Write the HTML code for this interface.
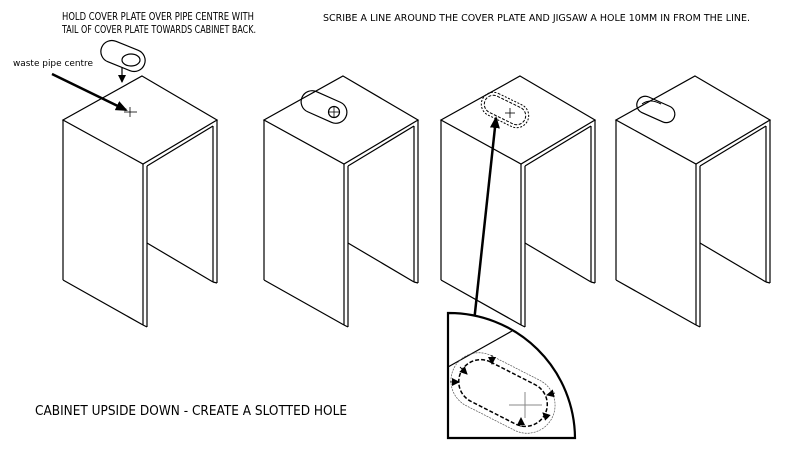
<!DOCTYPE html>
<html><head><style>
body{margin:0;background:#fff;}
svg{display:block;font-family:"DejaVu Sans","Liberation Sans",sans-serif;}
</style></head><body>
<svg width="800" height="450" viewBox="0 0 800 450">
<defs>
<g id="cab" fill="none" stroke="#000" stroke-width="1.2">
<polygon points="142,76 217,120 143,164 63,120" fill="#fff"/>
<line x1="63" y1="120" x2="63" y2="280"/>
<line x1="63" y1="280" x2="143" y2="325"/>
<line x1="143" y1="164" x2="143" y2="325"/>
<line x1="147" y1="166" x2="147" y2="327"/>
<line x1="143" y1="325" x2="147" y2="327"/>
<line x1="147" y1="166" x2="213" y2="126"/>
<line x1="213" y1="126" x2="213" y2="282"/>
<line x1="217" y1="120" x2="217" y2="283"/>
<line x1="213" y1="282" x2="217" y2="283"/>
<line x1="147" y1="243" x2="213" y2="282"/>
</g>
<marker id="ah" markerWidth="8" markerHeight="8" refX="7" refY="4" orient="auto" markerUnits="userSpaceOnUse"><path d="M0,0 L8,4 L0,8z" fill="#000"/></marker>
<marker id="ah2" markerWidth="12" markerHeight="12" refX="10" refY="6" orient="auto" markerUnits="userSpaceOnUse"><path d="M0,1 L12,6 L0,11z" fill="#000"/></marker>
</defs>
<text x="62" y="20" font-size="11" textLength="192" lengthAdjust="spacingAndGlyphs">HOLD COVER PLATE OVER PIPE CENTRE WITH</text>
<text x="62" y="33" font-size="11" textLength="194" lengthAdjust="spacingAndGlyphs">TAIL OF COVER PLATE TOWARDS CABINET BACK.</text>
<text x="323" y="21" font-size="10" textLength="427" lengthAdjust="spacingAndGlyphs">SCRIBE A LINE AROUND THE COVER PLATE AND JIGSAW A HOLE 10MM IN FROM THE LINE.</text>
<text x="13" y="66" font-size="8.5" textLength="80" lengthAdjust="spacingAndGlyphs">waste pipe centre</text>
<text x="35" y="415" font-size="13" textLength="312" lengthAdjust="spacingAndGlyphs">CABINET UPSIDE DOWN - CREATE A SLOTTED HOLE</text>

<use href="#cab"/>
<use href="#cab" transform="translate(201,0)"/>
<use href="#cab" transform="translate(378,0)"/>
<use href="#cab" transform="translate(553,0)"/>

<g fill="none" stroke="#000" stroke-width="1.2">
<rect x="100" y="45" width="46" height="22" rx="11" transform="rotate(22 123 56)" fill="#fff"/>
<ellipse cx="131" cy="60" rx="9" ry="6"/>
<line x1="122" y1="67" x2="122" y2="82" marker-end="url(#ah)"/>
<line x1="130" y1="107" x2="130" y2="117" stroke-width="0.8"/>
<line x1="124" y1="112" x2="137" y2="112" stroke-width="0.8"/>
<line x1="52" y1="74" x2="126" y2="110" stroke-width="2.5" marker-end="url(#ah2)"/>
</g>
<g fill="none" stroke="#000" stroke-width="1.2">
<rect x="300" y="96" width="48" height="22" rx="11" transform="rotate(24 324 107)"/>
<circle cx="334" cy="112" r="5.5"/>
<line x1="328" y1="112" x2="340" y2="112" stroke-width="0.8"/>
<line x1="334" y1="106" x2="334" y2="118" stroke-width="0.8"/>
</g>
<g fill="none" stroke="#000">
<rect x="480" y="98" width="50" height="24" rx="12" transform="rotate(26 505 110)" stroke-dasharray="2,1.5" stroke-width="1"/>
<rect x="483" y="101" width="44" height="18" rx="9" transform="rotate(26 505 110)" stroke-dasharray="3,1.5" stroke-width="1"/>
<line x1="505" y1="113" x2="515" y2="113" stroke-width="0.8"/>
<line x1="510" y1="108" x2="510" y2="118" stroke-width="0.8"/>
<line x1="474" y1="322" x2="496" y2="118" stroke-width="2.5" marker-end="url(#ah2)"/>
</g>
<g fill="none" stroke="#000" stroke-width="1.2">
<rect x="636" y="101" width="40" height="17" rx="8.5" transform="rotate(24 656 109)"/>
<path d="M642,104 Q650,98 661,104" stroke-width="1"/>
</g>
<g fill="#fff" stroke="#000">
<path d="M448,313 A126,126 0 0 1 575,438 L448,438 Z" stroke-width="2.2"/>
<line x1="448" y1="367" x2="512" y2="331" stroke-width="1.2"/>
<rect x="448" y="365" width="110" height="56" rx="28" transform="rotate(27 503 393)" fill="none" stroke-width="0.7" stroke="#555" stroke-dasharray="2,1"/>
<rect x="456" y="371" width="94" height="44" rx="22" transform="rotate(27 503 393)" fill="none" stroke-width="1.5" stroke-dasharray="4,2"/>
<line x1="509" y1="405" x2="542" y2="405" stroke="#888" stroke-width="1"/>
<line x1="525" y1="392" x2="525" y2="418" stroke="#888" stroke-width="1"/>
</g>
<g stroke="#000" stroke-width="0.9" fill="none">
<line x1="492" y1="355" x2="492" y2="364" marker-end="url(#ah)"/>
<line x1="460" y1="367" x2="467" y2="374" marker-end="url(#ah)"/>
<line x1="450" y1="382" x2="459" y2="382" marker-end="url(#ah)"/>
<line x1="555" y1="393" x2="547" y2="395" marker-end="url(#ah)"/>
<line x1="548" y1="418" x2="543" y2="413" marker-end="url(#ah)"/>
<line x1="521" y1="427" x2="521" y2="418" marker-end="url(#ah)"/>
</g>
</svg>
</body></html>
